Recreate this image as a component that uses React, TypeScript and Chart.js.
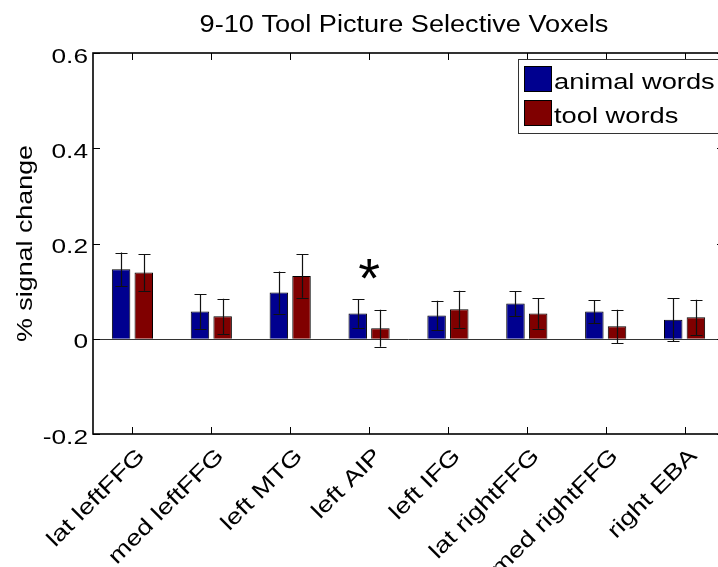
import React, { useEffect, useRef } from "react";
import { Chart, registerables } from "chart.js";

Chart.register(...registerables);

const titleText = "9-10 Tool Picture Selective Voxels";
const yAxisLabel = "% signal change";
const categories = [
  "lat leftFFG",
  "med leftFFG",
  "left MTG",
  "left AIP",
  "left IFG",
  "lat rightFFG",
  "med rightFFG",
  "right EBA",
];
const seriesNames = ["animal words", "tool words"];
const animalWords = [0.146, 0.057, 0.097, 0.053, 0.049, 0.074, 0.057, 0.04];
const animalErr = [0.035, 0.036, 0.044, 0.03, 0.031, 0.026, 0.024, 0.045];
const toolWords = [0.139, 0.047, 0.132, 0.022, 0.062, 0.053, 0.026, 0.045];
const toolErr = [0.038, 0.037, 0.046, 0.039, 0.039, 0.032, 0.035, 0.037];
const yTicks = [-0.2, 0, 0.2, 0.4, 0.6];
const yTickLabels = ["-0.2", "0", "0.2", "0.4", "0.6"];
const starCategory = "left AIP";
const starValue = 0.14;

const BLUE = "#00008F";
const RED = "#800000";
const FONT = '"Liberation Sans", Arial, Helvetica, sans-serif';

function txt(
  ctx: CanvasRenderingContext2D,
  s: string,
  x: number,
  y: number,
  size: number,
  sx: number,
  align: CanvasTextAlign,
  baseline: CanvasTextBaseline,
  rot = 0
) {
  ctx.save();
  ctx.translate(x, y);
  if (rot) ctx.rotate(rot);
  ctx.scale(sx, 1);
  ctx.font = `${size}px ${FONT}`;
  ctx.fillStyle = "#000";
  ctx.textAlign = align;
  ctx.textBaseline = baseline;
  ctx.fillText(s, 0, 0);
  ctx.restore();
}

const errs = [animalErr, toolErr];

const decorPlugin = {
  id: "decor",
  beforeDatasetsDraw(chart: any) {
    const ctx = chart.ctx as CanvasRenderingContext2D;
    const a = chart.chartArea;
    const ys = chart.scales.y;
    ctx.save();
    ctx.strokeStyle = "#333";
    ctx.lineWidth = 1;
    const y0 = Math.round(ys.getPixelForValue(0)) + 0.5;
    ctx.beginPath();
    ctx.moveTo(a.left, y0);
    ctx.lineTo(a.right, y0);
    ctx.stroke();
    ctx.restore();
  },
  afterDatasetsDraw(chart: any) {
    const ctx = chart.ctx as CanvasRenderingContext2D;
    const ys = chart.scales.y;
    ctx.save();
    ctx.strokeStyle = "#111";
    ctx.lineWidth = 1.2;
    chart.data.datasets.forEach((ds: any, di: number) => {
      const meta = chart.getDatasetMeta(di);
      meta.data.forEach((el: any, i: number) => {
        const v = ds.data[i];
        const e = errs[di][i];
        const x = Math.round(el.x) + 0.5;
        const yt = ys.getPixelForValue(v + e);
        const yb = ys.getPixelForValue(v - e);
        const cw = 6;
        ctx.beginPath();
        ctx.moveTo(x, yt);
        ctx.lineTo(x, yb);
        ctx.moveTo(x - cw, Math.round(yt) + 0.5);
        ctx.lineTo(x + cw, Math.round(yt) + 0.5);
        ctx.moveTo(x - cw, Math.round(yb) + 0.5);
        ctx.lineTo(x + cw, Math.round(yb) + 0.5);
        ctx.stroke();
      });
    });
    ctx.restore();
  },
  afterDraw(chart: any) {
    const ctx = chart.ctx as CanvasRenderingContext2D;
    const a = chart.chartArea;
    const xs = chart.scales.x;
    const ys = chart.scales.y;
    ctx.save();
    ctx.strokeStyle = "#000";
    ctx.lineWidth = 1.6;
    ctx.strokeRect(a.left, a.top, a.right - a.left, a.bottom - a.top);
    ctx.lineWidth = 1;
    const tl = 7;
    ctx.beginPath();
    yTicks.forEach((t) => {
      const y = Math.round(ys.getPixelForValue(t)) + 0.5;
      ctx.moveTo(a.left, y);
      ctx.lineTo(a.left + tl, y);
      ctx.moveTo(a.right, y);
      ctx.lineTo(a.right - tl, y);
    });
    categories.forEach((_, i) => {
      const x = Math.round(xs.getPixelForValue(i)) + 0.5;
      ctx.moveTo(x, a.bottom);
      ctx.lineTo(x, a.bottom - tl);
      ctx.moveTo(x, a.top);
      ctx.lineTo(x, a.top + tl);
    });
    ctx.stroke();
    ctx.restore();

    yTicks.forEach((t, i) => {
      const y = ys.getPixelForValue(t);
      txt(ctx, yTickLabels[i], a.left - 5, y + 9.5, 21, 1.25, "right", "alphabetic");
    });
    categories.forEach((c, i) => {
      const x = xs.getPixelForValue(i);
      txt(ctx, c, x + 13.5, a.bottom + 23, 22, 1.25, "right", "alphabetic", -Math.PI / 4);
    });
    txt(ctx, yAxisLabel, 32, (a.top + a.bottom) / 2, 22, 1.22, "center", "alphabetic", -Math.PI / 2);
    txt(ctx, titleText, 404, 32, 23, 1.18, "center", "alphabetic");
    const si = categories.indexOf(starCategory);
    const sx = xs.getPixelForValue(si);
    const sy = ys.getPixelForValue(starValue);
    txt(ctx, "*", sx, sy + 0.45 * 56, 56, 1.0, "center", "alphabetic");

    ctx.save();
    const lx = 518, ly = 59, lw = 240, lh = 74;
    ctx.fillStyle = "#fff";
    ctx.fillRect(lx, ly, lw, lh);
    ctx.strokeStyle = "#333";
    ctx.lineWidth = 1;
    ctx.strokeRect(lx + 0.5, ly + 0.5, lw, lh);
    const rows = [79, 113];
    chart.data.datasets.forEach((ds: any, di: number) => {
      const cy = rows[di];
      ctx.fillStyle = ds.backgroundColor;
      ctx.fillRect(524, cy - 13, 28, 26);
      ctx.strokeStyle = "#000";
      ctx.strokeRect(524.5, cy - 12.5, 27, 25);
      txt(ctx, ds.label, 554, cy + 10, 22, 1.24, "left", "alphabetic");
    });
    ctx.restore();
  },
};

export default function App() {
  const ref = useRef<HTMLCanvasElement | null>(null);
  useEffect(() => {
    document.body.style.margin = "0";
    document.body.style.overflow = "hidden";
    const canvas = ref.current!;
    const chart = new Chart(canvas, {
      type: "bar",
      data: {
        labels: categories,
        datasets: [
          {
            label: seriesNames[0],
            data: animalWords,
            backgroundColor: BLUE,
            borderColor: "#000",
            borderWidth: 1,
            categoryPercentage: 0.575,
            barPercentage: 0.815,
          },
          {
            label: seriesNames[1],
            data: toolWords,
            backgroundColor: RED,
            borderColor: "#000",
            borderWidth: 1,
            categoryPercentage: 0.575,
            barPercentage: 0.815,
          },
        ],
      },
      options: {
        responsive: false,
        animation: false,
        devicePixelRatio: 1,
        layout: { padding: { left: 93, right: 740 - 724, top: 53, bottom: 567 - 434 } },
        plugins: { legend: { display: false }, title: { display: false }, tooltip: { enabled: false } },
        scales: {
          x: { type: "category", display: false, offset: true },
          y: { display: false, min: -0.2, max: 0.6 },
        },
      },
      plugins: [decorPlugin],
    });
    return () => chart.destroy();
  }, []);
  return (
    <div
      style={{
        position: "absolute",
        left: 0,
        top: 0,
        width: 718,
        height: 567,
        overflow: "hidden",
        background: "#fff",
      }}
    >
      <canvas ref={ref} width={740} height={567} style={{ width: 740, height: 567, display: "block" }} />
    </div>
  );
}
